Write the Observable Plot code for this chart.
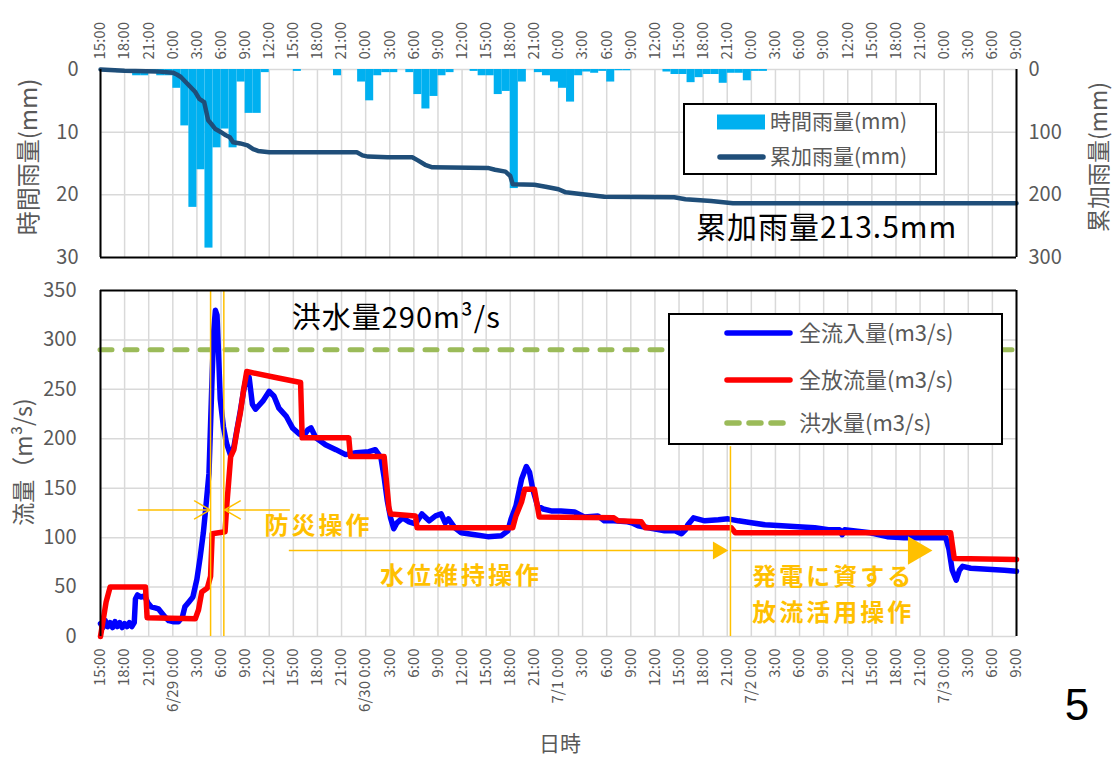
<!DOCTYPE html>
<html><head><meta charset="utf-8">
<script src="https://cdn.jsdelivr.net/npm/d3@7"></script>
<script src="https://cdn.jsdelivr.net/npm/@observablehq/plot@0.6"></script>
<style>
body{margin:0;background:#fff;}
#wrap{position:relative;width:1115px;height:763px;overflow:hidden;font-family:"Noto Sans CJK JP","Noto Sans",sans-serif;}
#wrap svg{position:absolute;left:0;}
.t{position:absolute;white-space:nowrap;color:#595959;transform:translate(-50%,-50%);}
.rot{transform:translate(-50%,-50%) rotate(-90deg);}
</style></head>
<body><div id="wrap"></div>
<script>
const FONT = '"Noto Sans CJK JP","Noto Sans",sans-serif';
// time origin: 6/28 15:00 ; all times below are hours elapsed since then
const START = Date.UTC(2023, 5, 28, 15);
const END_H = 114; // 7/3 9:00
const toDate = h => new Date(START + h * 3600e3);

// hourly rainfall (mm), index = hour since 6/28 15:00
const rainHourly = [0,0.3,0.5,0.5,1,1,0.5,1,1,3, 9,22,16,28.5,12.5,9.5,12.5,2,7,7,
  0.5,0,0,0,0.3,0,0,0,0,1, 0,0,2,5,1,0.5,0.5,0,0.5,4,
  6.3,4.3,1,0.5,0,0,0.3,1,1,4, 3.5,19,2,0,0.5,1,2,3,5.2,1,
  0.4,0.6,0.3,2,0.2,0.2,0,0,0,0, 0.4,0.8,0.8,2.1,1.3,0.8,0.8,2.2,0.6,0.6,
  1.8,0.3,0.3];
// cumulative rainfall (mm): hours and values
const cumHours = [0,3,7,9,9.5,10,10.3,11.2,11.8,12.3,12.9,13.4,13.8,14.3,15,15.6,16.1,16.5,17.4,18.3,19,19.6,21,31.9,32.6,33.3,35.7,38.8,39.5,40.4,41.3,48.2,49.1,50.4,51,51.3,54,55.4,57,57.9,60,62.7,71.4,72.8,76,78.7,114];
const cumValues = [0,2,3,5,8,12,16,28,36,47,52,81,87,95,100,105,108,116,118,121,127,130,132,132,137,139,140,140,145,152,156,157,160,163,170,183,184,187,191,196,199,203,204,207,210,213.5,213.5];

// total inflow (m3/s)
const inflowHours = [0,0.3,0.6,0.9,1.2,1.5,1.8,2.1,2.4,2.7,3,3.3,3.6,3.9,4.2,4.35,4.6,5,5.5,5.9,6.3,6.8,7.2,7.6,8,8.5,9,9.7,10.2,10.5,11,11.5,12,12.4,12.8,13.1,13.5,13.7,13.9,14.1,14.3,14.5,14.7,14.9,15.3,15.7,16.2,16.6,17,17.4,17.8,18.2,18.5,18.9,19.3,20.2,21,21.6,22.2,23.1,23.9,24.7,25.3,25.8,26.2,26.8,28,29.3,30.5,31.8,33.4,34.2,34.9,35.3,35.7,36.1,36.5,36.9,37.6,38.4,39.2,40,40.9,41.7,42.4,42.9,43.3,44.1,44.9,46.6,48.2,49.9,50.7,51.1,51.7,52.4,53,53.4,53.8,54.4,55.1,56.1,57.3,59,60.2,61.9,62.7,63.9,65.6,66.1,66.9,68.2,70.2,71.5,72.3,72.8,73.1,73.8,75.2,76.9,78.1,79.4,81,82.7,84.8,86.8,88.9,90.6,92,92.3,92.6,95.8,97.9,100,102.1,104.2,105.2,105.6,106,106.5,106.9,107.3,108.3,110.4,112.5,114];
const inflowValues = [13,9,16,10,14,9,15,10,14,9,13,10,14,10,14,38,42,40,41,34,30,29,28,24,20,16,15,15,20,30,35,40,58,80,105,130,165,215,266,310,330,325,285,240,212,195,183,192,210,228,248,264,262,235,230,238,248,243,231,223,211,205,203,209,211,201,194,189,184,186,187,189,181,161,137,120,109,115,120,116,114,124,117,122,124,115,119,110,105,103,101,102,107,119,132,159,172,166,149,132,129,127,127,126,121,122,117,117,116,115,112,110,107,107,104,108,113,120,117,118,119,117,115,113,112,111,110,108,108,103,108,105,101,100,100,100,100,88,67,57,67,71,69,68,67,66];

// total outflow (m3/s)
const outflowHours = [0,0.3,0.7,1.2,5.6,5.8,11.8,12.2,12.6,13.3,13.7,13.9,15.5,15.7,16.2,16.6,17,17.4,17.8,18.2,21.8,24.9,25.1,30.9,31.1,35.3,35.9,36.1,39.2,39.4,51.3,51.7,52.4,52.8,54,54.6,63.9,64.4,67.3,67.8,78.5,79,105.8,106.25,114];
const outflowValues = [0,15,35,50,50,19,18,27,45,49,61,104,106,131,182,189,209,226,249,268,262,257,201,201,182,182,130,124,122,110,110,122,136,149,149,121,120,117,116,110,110,105,105,79,78];

const floodFlow = 290; // 洪水量
const opDisaster = [13.7, 15.35];   // 防災操作 start / end
const opPower = 78.4;               // 発電に資する放流活用操作 start
const tickHours = d3.range(0, END_H + 1, 3);

// ---- derived tables ----
const rainData = rainHourly.map((mm, i) => ({t0: toDate(i), t1: toDate(i + 1), mm}));
const cumData = cumHours.map((h, i) => ({t: toDate(h), c: cumValues[i]}));
const inflow = inflowHours.map((h, i) => ({t: toDate(h), v: inflowValues[i]}));
const outflow = outflowHours.map((h, i) => ({t: toDate(h), v: outflowValues[i]}));
const ticks = tickHours.map(toDate);
const hm = d => `${d.getUTCHours()}:${String(d.getUTCMinutes()).padStart(2, "0")}`;
const md = d => `${d.getUTCMonth() + 1}/${d.getUTCDate()}`;
const domainX = [toDate(0), toDate(END_H)];
const GRID = "#d9d9d9";
const ORANGE = "#FFC000";

const wrap = document.getElementById("wrap");

const topPlot = Plot.plot({
  width: 1115, height: 262,
  marginLeft: 100, marginRight: 99, marginTop: 69, marginBottom: 5,
  style: {fontFamily: FONT, color: "#595959", background: "transparent", overflow: "visible"},
  x: {type: "utc", domain: domainX},
  y: {domain: [0, 30], reverse: true},
  marks: [
    Plot.ruleX(ticks, {stroke: GRID, strokeWidth: 1.5}),
    Plot.ruleY([0, 10, 20], {stroke: GRID, strokeWidth: 1.5}),
    Plot.rect(rainData, {x1: "t0", x2: "t1", y1: 0, y2: "mm", fill: "#00B0F0"}),
    Plot.line(cumData, {x: "t", y: d => d.c / 10, stroke: "#1F4E79", strokeWidth: 4.5}),
    Plot.ruleX(domainX, {stroke: "#000", strokeWidth: 2}),
    Plot.ruleY([30], {stroke: "#000", strokeWidth: 2}),
    Plot.axisX({anchor: "top", ticks, tickFormat: hm, tickSize: 0, tickPadding: 10, tickRotate: -90,
      textAnchor: "start", lineAnchor: "middle", fontSize: 15, label: null}),
    Plot.axisY({anchor: "left", ticks: [0, 10, 20, 30], tickSize: 0, tickPadding: 22, fontSize: 20, label: null}),
    Plot.axisY({anchor: "right", ticks: [0, 10, 20, 30], tickFormat: d => d * 10, tickSize: 0, tickPadding: 12, fontSize: 20, label: null}),
    Plot.text(["累加雨量213.5mm"], {x: toDate(74.1), y: 25.4, text: d => d, textAnchor: "start", fontSize: 30, fill: "#000"})
  ]
});
topPlot.style.top = "0px";
wrap.appendChild(topPlot);

const bottomPlot = Plot.plot({
  width: 1115, height: 446,
  marginLeft: 100, marginRight: 99, marginTop: 10, marginBottom: 90,
  style: {fontFamily: FONT, color: "#595959", background: "transparent", overflow: "visible"},
  x: {type: "utc", domain: domainX},
  y: {domain: [0, 350]},
  marks: [
    Plot.ruleX(ticks, {stroke: GRID, strokeWidth: 1.5}),
    Plot.ruleY(d3.range(0, 350, 50), {stroke: GRID, strokeWidth: 1.5}),
    Plot.ruleY([floodFlow], {stroke: "#9BBB59", strokeWidth: 5, strokeDasharray: "12 13", strokeLinecap: "round"}),
    Plot.line(inflow, {x: "t", y: "v", stroke: "#0000FF", strokeWidth: 5.5, strokeLinejoin: "round"}),
    Plot.line(outflow, {x: "t", y: "v", stroke: "#FF0000", strokeWidth: 5.5, strokeLinejoin: "round"}),
    // annotations
    Plot.ruleX(opDisaster.map(toDate), {y1: 0, y2: 350, stroke: ORANGE, strokeWidth: 1.5}),
    Plot.ruleX([toDate(opPower)], {y1: 0, y2: 192, stroke: ORANGE, strokeWidth: 1.5}),
    Plot.arrow([{a: 4.7, b: 13.65}, {a: 23.5, b: 15.45}], {x1: d => toDate(d.a), x2: d => toDate(d.b), y1: 128, y2: 128,
      stroke: ORANGE, strokeWidth: 1.5, headLength: 18, headAngle: 60}),
    Plot.ruleY([{a: 23.5, b: 76.8}, {a: 78.6, b: 101.4}], {x1: d => toDate(d.a), x2: d => toDate(d.b), y: 87, stroke: ORANGE, strokeWidth: 1.5}),
    Plot.dot([78.1], {x: d => toDate(d), y: 87, r: 6.6, dx: -10, symbol: "triangle", rotate: 90, fill: ORANGE, stroke: "none"}),
    Plot.dot([103.5], {x: d => toDate(d), y: 87, r: 10.5, dx: -16, symbol: "triangle", rotate: 90, fill: ORANGE, stroke: "none"}),
    Plot.text([{h: 20.4, v: 111.5, s: "防災操作"}, {h: 34.8, v: 61, s: "水位維持操作"}, {h: 81.1, v: 59.5, s: "発電に資する"}, {h: 81.1, v: 23.5, s: "放流活用操作"}],
      {x: d => toDate(d.h), y: "v", text: "s", textAnchor: "start", fontSize: 24, fontWeight: "bold", fill: ORANGE}),
    Plot.text(["洪水量290m³/s"], {x: toDate(23.8), y: 321.5, text: d => d, textAnchor: "start", fontSize: 29, fill: "#000"}),
    Plot.ruleX(domainX, {stroke: "#000", strokeWidth: 2}),
    Plot.ruleY([350], {stroke: "#000", strokeWidth: 2}),
    Plot.axisX({anchor: "bottom", ticks, tickFormat: d => d.getUTCHours() === 0 ? `${md(d)} ${hm(d)}` : hm(d),
      tickSize: 0, tickPadding: 12, tickRotate: -90, textAnchor: "end", lineAnchor: "middle", fontSize: 15, label: null}),
    Plot.axisY({anchor: "left", ticks: d3.range(0, 351, 50), tickSize: 0, tickPadding: 24, fontSize: 20, label: null})
  ]
});
bottomPlot.style.top = "280px";
wrap.appendChild(bottomPlot);
// letter spacing for the annotation texts (as in the reference)
d3.select(bottomPlot).selectAll(`g[fill="${ORANGE}"] text`).style("letter-spacing", "3px");
d3.select(bottomPlot).selectAll(`g[fill="#000"] text`).style("letter-spacing", "1px");
d3.select(topPlot).selectAll(`g[fill="#000"] text`).style("letter-spacing", "1px");

// ---- legends & titles (overlays) ----
function legend(left, top, w, h, items) {
  const svg = d3.select(wrap).append("svg").attr("width", w).attr("height", h)
    .style("left", left + "px").style("top", top + "px").style("font-family", FONT);
  svg.append("rect").attr("x", 1).attr("y", 1).attr("width", w - 2).attr("height", h - 2)
    .attr("fill", "#fff").attr("stroke", "#000").attr("stroke-width", 2);
  for (const it of items) {
    if (it.kind === "rect") svg.append("rect").attr("x", it.x1).attr("y", it.y - 7.5).attr("width", it.x2 - it.x1).attr("height", 15).attr("fill", it.color);
    else svg.append("line").attr("x1", it.x1).attr("x2", it.x2).attr("y1", it.y).attr("y2", it.y)
      .attr("stroke", it.color).attr("stroke-width", 5.5).attr("stroke-linecap", "round").attr("stroke-dasharray", it.dash || null);
    svg.append("text").attr("x", it.tx).attr("y", it.y).attr("dy", "0.35em").attr("font-size", it.fs)
      .attr("fill", "#595959").text(it.label);
  }
}
legend(683, 103, 254, 72, [
  {kind: "rect", x1: 34, x2: 82, y: 19, color: "#00B0F0", tx: 87, fs: 21, label: "時間雨量(mm)"},
  {kind: "line", x1: 37, x2: 80, y: 54, color: "#1F4E79", tx: 87, fs: 21, label: "累加雨量(mm)"}
]);
legend(668, 313, 335, 132, [
  {kind: "line", x1: 59, x2: 122, y: 20, color: "#0000FF", tx: 131, fs: 22, label: "全流入量(m3/s)"},
  {kind: "line", x1: 59, x2: 122, y: 67, color: "#FF0000", tx: 131, fs: 22, label: "全放流量(m3/s)"},
  {kind: "line", x1: 59, x2: 122, y: 110, color: "#9BBB59", dash: "12 10", tx: 131, fs: 22, label: "洪水量(m3/s)"}
]);

function label(text, x, y, fs, rot) {
  const d = document.createElement("div");
  d.className = "t" + (rot ? " rot" : "");
  d.style.left = x + "px"; d.style.top = y + "px"; d.style.fontSize = fs + "px";
  d.textContent = text;
  wrap.appendChild(d);
}
label("時間雨量(mm)", 26, 157, 24, true);
label("累加雨量(mm)", 1097, 157, 23, true);
label("流量（m³/s)", 22, 462, 23, true);
label("日時", 560, 742, 21, false);
const five = document.createElement("div");
five.className = "t"; five.textContent = "5";
five.style.cssText += "left:1077px;top:705px;font-size:44px;color:#000;font-family:'Liberation Sans',Arial,sans-serif;";
wrap.appendChild(five);
</script></body></html>
